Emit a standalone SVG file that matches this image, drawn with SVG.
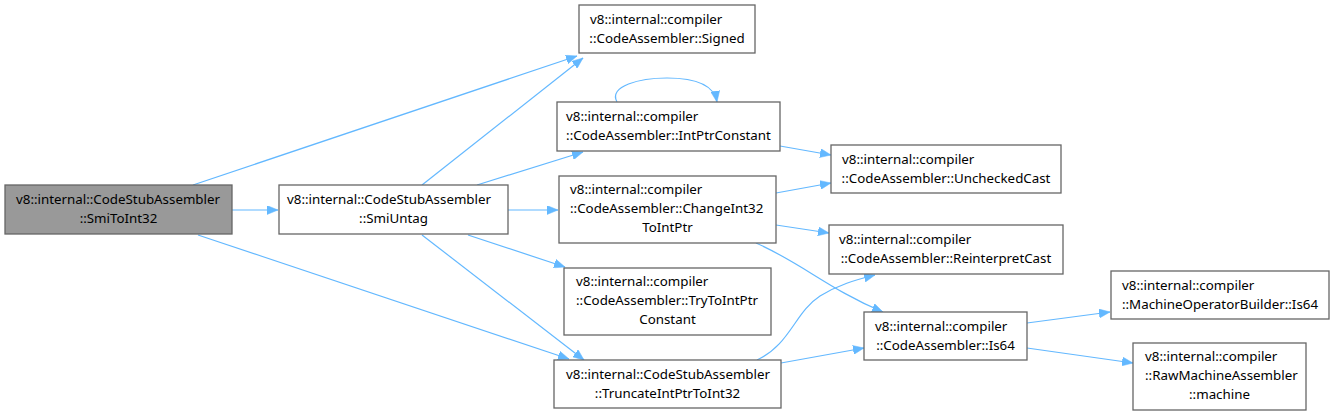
<svg xmlns="http://www.w3.org/2000/svg" width="1334" height="417" viewBox="0 0 1334 417">
<style>
  .node rect { fill: #ffffff; stroke: #666666; stroke-width: 1.3; }
  .node.root rect { fill: #999999; }
  .node text { font-family: "Noto Sans", "DejaVu Sans", sans-serif; font-size: 13.33px; fill: #000000; }
  .c { text-anchor: middle; }
  .l { text-anchor: start; }
  .edges path { fill: none; stroke: #63b8ff; stroke-width: 1.2; marker-end: url(#arr); }
</style>
<defs>
  <marker id="arr" markerUnits="userSpaceOnUse" markerWidth="12" markerHeight="9" refX="11" refY="4.5" orient="auto">
    <path d="M0,0 L11,4.5 L0,9 z" fill="#63b8ff" stroke="#63b8ff" stroke-width="0.5"/>
  </marker>
</defs>
<rect x="0" y="0" width="1334" height="417" fill="#ffffff"/>
<g class="edges" id="edges">
  <path d="M193,185 L577,56"/>
  <path d="M232,210 L278,210"/>
  <path d="M198,235 L569,359"/>
  <path d="M422,185 L583,58"/>
  <path d="M477,185 L583,152"/>
  <path d="M508,210 L558,210"/>
  <path d="M468,235 L565,267"/>
  <path d="M422,235 L584,360"/>
  <path d="M617,102 C608,86 640,78 667,78 C695,78 714,84 717,102"/>
  <path d="M780,146 L831,155"/>
  <path d="M776,193 L831,183"/>
  <path d="M776,225 L829,233"/>
  <path d="M756,243 C800,262 830,290 883,312"/>
  <path d="M757,360 C790,345 795,312 820,296 C838,285 855,280 875,275"/>
  <path d="M781,363 L864,348"/>
  <path d="M1027,323 L1110,312"/>
  <path d="M1027,348 L1133,363"/>
</g>
<g class="node root" id="node-SmiToInt32">
  <rect x="5" y="185" width="227" height="49"/>
  <text class="l" x="16" y="204">v8::internal::CodeStubAssembler</text>
  <text class="c" x="118.5" y="223">::SmiToInt32</text>
</g>
<g class="node" id="node-SmiUntag">
  <rect x="279" y="185" width="229" height="49"/>
  <text class="l" x="287" y="204">v8::internal::CodeStubAssembler</text>
  <text class="c" x="393.5" y="223">::SmiUntag</text>
</g>
<g class="node" id="node-Signed">
  <rect x="579" y="5" width="176" height="48"/>
  <text class="l" x="590" y="24">v8::internal::compiler</text>
  <text class="c" x="667" y="43">::CodeAssembler::Signed</text>
</g>
<g class="node" id="node-IntPtrConstant">
  <rect x="557" y="102" width="223" height="49"/>
  <text class="l" x="566" y="121">v8::internal::compiler</text>
  <text class="c" x="668.5" y="140">::CodeAssembler::IntPtrConstant</text>
</g>
<g class="node" id="node-UncheckedCast">
  <rect x="831" y="145" width="230" height="48"/>
  <text class="l" x="842" y="164">v8::internal::compiler</text>
  <text class="c" x="946" y="183">::CodeAssembler::UncheckedCast</text>
</g>
<g class="node" id="node-ChangeInt32ToIntPtr">
  <rect x="559" y="176" width="217" height="67"/>
  <text class="l" x="570" y="194">v8::internal::compiler</text>
  <text class="l" x="570" y="213">::CodeAssembler::ChangeInt32</text>
  <text class="c" x="667.5" y="232">ToIntPtr</text>
</g>
<g class="node" id="node-ReinterpretCast">
  <rect x="829" y="225" width="234" height="49"/>
  <text class="l" x="839" y="244">v8::internal::compiler</text>
  <text class="c" x="946" y="263">::CodeAssembler::ReinterpretCast</text>
</g>
<g class="node" id="node-TryToIntPtrConstant">
  <rect x="564" y="268" width="207" height="67"/>
  <text class="l" x="576" y="286">v8::internal::compiler</text>
  <text class="l" x="576" y="305">::CodeAssembler::TryToIntPtr</text>
  <text class="c" x="667.5" y="324">Constant</text>
</g>
<g class="node" id="node-TruncateIntPtrToInt32">
  <rect x="554" y="360" width="227" height="48"/>
  <text class="l" x="566" y="379">v8::internal::CodeStubAssembler</text>
  <text class="c" x="667.5" y="398">::TruncateIntPtrToInt32</text>
</g>
<g class="node" id="node-Is64">
  <rect x="864" y="312" width="163" height="48"/>
  <text class="l" x="875" y="331">v8::internal::compiler</text>
  <text class="c" x="945.5" y="350">::CodeAssembler::Is64</text>
</g>
<g class="node" id="node-MOB-Is64">
  <rect x="1111" y="271" width="218" height="48"/>
  <text class="l" x="1122" y="290">v8::internal::compiler</text>
  <text class="c" x="1220" y="309">::MachineOperatorBuilder::Is64</text>
</g>
<g class="node" id="node-machine">
  <rect x="1133" y="343" width="173" height="67"/>
  <text class="l" x="1145" y="361">v8::internal::compiler</text>
  <text class="l" x="1145" y="380">::RawMachineAssembler</text>
  <text class="c" x="1219.5" y="399">::machine</text>
</g>
</svg>
